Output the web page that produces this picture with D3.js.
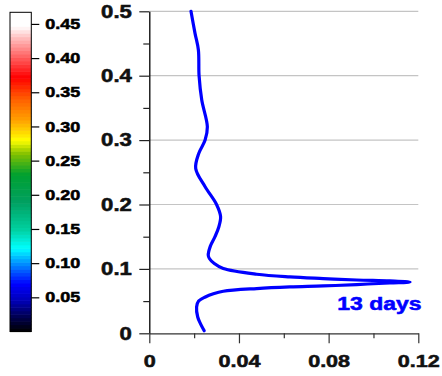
<!DOCTYPE html>
<html><head><meta charset="utf-8">
<script src="https://cdn.jsdelivr.net/npm/d3@7"></script>
<style>
html,body{margin:0;padding:0;background:#fff;}
text{font-family:"Liberation Sans",Arial,Helvetica,sans-serif;font-weight:bold;}
</style></head>
<body><svg id="c" width="442" height="376"></svg>
<script>
// ---- data ----
const curveY = [0.004, 0.015, 0.0253, 0.0409, 0.050, 0.0564, 0.0614, 0.0653, 0.0695, 0.0720, 0.0735, 0.0757, 0.0782, 0.0797, 0.0813, 0.0828, 0.0850, 0.0875, 0.0917, 0.1006, 0.1083, 0.1161, 0.1212, 0.135, 0.150, 0.165, 0.181, 0.200, 0.2276, 0.2560, 0.2797, 0.300, 0.3206, 0.3621, 0.400, 0.4399, 0.4658, 0.500];
const curveX = [0.0245, 0.0228, 0.0216, 0.0211, 0.0220, 0.0250, 0.0286, 0.0330, 0.0479, 0.0627, 0.0776, 0.0925, 0.1073, 0.1163, 0.1073, 0.0925, 0.0776, 0.0627, 0.0479, 0.0330, 0.0290, 0.0268, 0.0263, 0.0272, 0.0293, 0.0310, 0.0318, 0.0300, 0.0249, 0.0207, 0.0221, 0.0249, 0.0259, 0.0234, 0.0222, 0.0219, 0.0204, 0.0186];
const seriesLabel = "13 days";
const yTicks = [0, 0.1, 0.2, 0.3, 0.4, 0.5];
const yTickLabels = ["0", "0.1", "0.2", "0.3", "0.4", "0.5"];
const yMinor = [0.05, 0.15, 0.25, 0.35, 0.45];
const xTicks = [0, 0.04, 0.08, 0.12];
const xTickLabels = ["0", "0.04", "0.08", "0.12"];
const xMinor = [0.02, 0.06, 0.10];
const cbTicks = [0.05, 0.10, 0.15, 0.20, 0.25, 0.30, 0.35, 0.40, 0.45];
const cbTickLabels = ["0.05", "0.10", "0.15", "0.20", "0.25", "0.30", "0.35", "0.40", "0.45"];
const cbMax = 0.467;
const cbStops = [0, 0.02, 0.045, 0.07, 0.10, 0.122, 0.15, 0.19, 0.23, 0.26, 0.28, 0.31, 0.34, 0.372, 0.40, 0.43, 0.447, 0.467];
const cbColors = ["#000000", "#000048", "#0000b4", "#0000ff", "#0090ff", "#00ffff", "#00d0a0", "#00a060", "#00a030", "#80c000", "#ffff00", "#ffa000", "#ff6000", "#ff0000", "#ff5a5a", "#ffbebe", "#ffffff", "#ffffff"];

// ---- layout ----
const svg = d3.select("#c");
const x = d3.scaleLinear().domain([0, 0.12]).range([149.3, 418.3]);
const y = d3.scaleLinear().domain([0, 0.5]).range([333.3, 11.3]);
const cb = d3.scaleLinear().domain([0, cbMax]).range([331.5, 12.3]);
const cbColor = d3.scaleLinear().domain(cbStops).range(cbColors);

// colorbar bands
const nBands = 92;
const bands = d3.range(nBands).map(i => [i * cbMax / nBands, (i + 1) * cbMax / nBands]);
svg.append("g").selectAll("rect").data(bands).join("rect")
  .attr("x", 10).attr("width", 21.3)
  .attr("y", d => cb(d[1]))
  .attr("height", d => cb(d[0]) - cb(d[1]) + 0.6)
  .attr("fill", d => cbColor((d[0] + d[1]) / 2));
svg.append("rect").attr("x", 10).attr("y", cb(cbMax)).attr("width", 21.3)
  .attr("height", cb(0) - cb(cbMax)).attr("fill", "none").attr("stroke", "#000").attr("stroke-width", 1);
const cbAxis = svg.append("g").attr("transform", "translate(31.3,0)")
  .call(d3.axisRight(cb).tickValues(cbTicks).tickSize(8).tickPadding(6)
    .tickFormat((d, i) => cbTickLabels[i]));
cbAxis.select(".domain").remove();
cbAxis.selectAll("line").attr("stroke", "#000").attr("stroke-width", 1.2);
cbAxis.selectAll("text").attr("class", "st").style("font-size", "14.5px").attr("fill", "#000");

// gridlines
svg.append("g").selectAll("line").data(yTicks.filter(d => d > 0)).join("line")
  .attr("x1", x(0)).attr("x2", x(0.12))
  .attr("y1", d => y(d)).attr("y2", d => y(d))
  .attr("stroke", "#c4c4c4").attr("stroke-width", 1.2);

// y axis
const yMinorAxis = svg.append("g").attr("transform", `translate(${x(0)},0)`)
  .call(d3.axisLeft(y).tickValues(yMinor).tickSize(6).tickFormat(""));
yMinorAxis.select(".domain").remove();
yMinorAxis.selectAll("line").attr("stroke", "#222").attr("stroke-width", 1.2);
const yAxis = svg.append("g").attr("transform", `translate(${x(0)},0)`)
  .call(d3.axisLeft(y).tickValues(yTicks).tickSize(10).tickSizeOuter(0).tickPadding(7.5)
    .tickFormat((d, i) => yTickLabels[i]));
yAxis.select(".domain").attr("stroke", "#000").attr("stroke-width", 1.3);
yAxis.selectAll("line").attr("stroke", "#222").attr("stroke-width", 1.2);
yAxis.selectAll("text").attr("class", "st").style("font-size", "17.8px").attr("fill", "#111");

// x axis
const xMinorAxis = svg.append("g").attr("transform", `translate(0,${y(0)})`)
  .call(d3.axisBottom(x).tickValues(xMinor).tickSize(5).tickFormat(""));
xMinorAxis.select(".domain").remove();
xMinorAxis.selectAll("line").attr("stroke", "#333").attr("stroke-width", 1.2);
const xAxis = svg.append("g").attr("transform", `translate(0,${y(0)})`)
  .call(d3.axisBottom(x).tickValues(xTicks).tickSize(10).tickSizeOuter(0).tickPadding(11)
    .tickFormat((d, i) => xTickLabels[i]));
xAxis.select(".domain").attr("stroke", "#333").attr("stroke-width", 1.3);
xAxis.selectAll("line").attr("stroke", "#333").attr("stroke-width", 1.2);
xAxis.selectAll("text").attr("class", "st").style("font-size", "17.4px").attr("fill", "#111");

// curve
const pts = curveY.map((v, i) => ({y: v, x: curveX[i]}));
svg.append("path").datum(pts)
  .attr("fill", "none").attr("stroke", "#0000ff").attr("stroke-width", 3.2)
  .attr("stroke-linejoin", "round").attr("stroke-linecap", "round")
  .attr("d", d3.line().x(d => x(d.x)).y(d => y(d.y)).curve(d3.curveCatmullRom.alpha(0.5)));

// series label
svg.append("text").attr("class", "st").attr("x", 421.5).attr("y", 310)
  .attr("text-anchor", "end").style("font-size", "18.5px").attr("fill", "#0000ff")
  .text(seriesLabel);

// heavier, horizontally stretched lettering, as in the reference
svg.selectAll("text.st").each(function () {
  const t = d3.select(this);
  const L = this.getComputedTextLength();
  t.attr("stroke", t.attr("fill")).attr("stroke-width", 0.55).attr("paint-order", "stroke");
  if (L > 0) t.attr("textLength", (L * 1.24).toFixed(1)).attr("lengthAdjust", "spacingAndGlyphs");
});
</script></body></html>
